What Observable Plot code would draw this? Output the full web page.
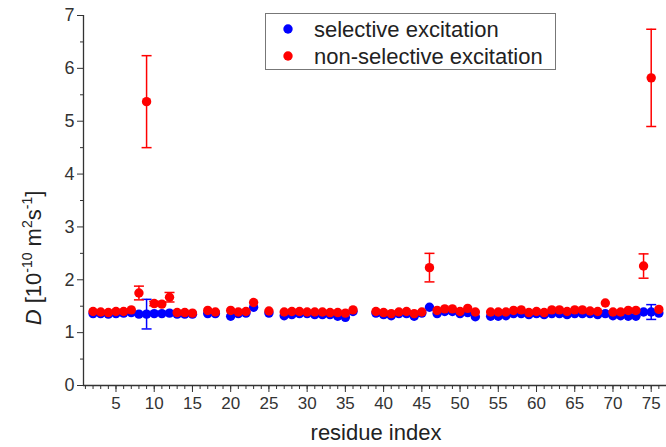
<!DOCTYPE html>
<html><head><meta charset="utf-8">
<script src="https://cdn.jsdelivr.net/npm/d3@7"></script>
<script src="https://cdn.jsdelivr.net/npm/@observablehq/plot@0.6"></script>
<style>
body{margin:0;background:#fff;}
svg{font-family:"Liberation Sans",Arial,sans-serif;}
</style>
</head><body><div id="chart"></div>
<script>
const residues = [2,3,4,5,6,7,8,9,10,11,12,13,14,15,17,18,20,21,22,23,25,27,28,29,30,31,32,33,34,35,36,39,40,41,42,43,44,45,46,47,48,49,50,51,52,54,55,56,57,58,59,60,61,62,63,64,65,66,67,68,69,70,71,72,73,74,75,76];
const selectiveD = [1.36,1.36,1.35,1.36,1.37,1.38,1.35,1.35,1.36,1.36,1.37,1.35,1.35,1.35,1.36,1.36,1.31,1.36,1.37,1.48,1.37,1.32,1.34,1.36,1.36,1.34,1.34,1.34,1.31,1.29,1.40,1.37,1.34,1.32,1.36,1.36,1.31,1.37,1.48,1.36,1.40,1.40,1.36,1.38,1.30,1.31,1.31,1.32,1.36,1.36,1.34,1.36,1.34,1.36,1.36,1.34,1.36,1.36,1.36,1.34,1.36,1.32,1.32,1.31,1.31,1.39,1.39,1.37];
const selectiveErr = [0,0,0,0,0,0,0,0.28,0,0,0,0,0,0,0,0,0,0,0,0,0,0,0,0,0,0,0,0,0,0,0,0,0,0,0,0,0,0,0,0,0,0,0,0,0,0,0,0,0,0,0,0,0,0,0,0,0,0,0,0,0,0,0,0,0,0,0.14,0];
const nonSelectiveD = [1.40,1.39,1.38,1.40,1.40,1.43,1.75,5.37,1.55,1.54,1.67,1.38,1.38,1.37,1.42,1.39,1.42,1.39,1.40,1.57,1.41,1.39,1.40,1.40,1.39,1.39,1.39,1.38,1.38,1.37,1.43,1.40,1.38,1.36,1.39,1.40,1.36,1.39,2.23,1.42,1.45,1.45,1.40,1.46,1.39,1.39,1.39,1.39,1.42,1.43,1.38,1.40,1.38,1.43,1.43,1.40,1.43,1.43,1.41,1.40,1.56,1.39,1.39,1.42,1.42,2.26,5.82,1.44];
const nonSelectiveErr = [0,0,0,0,0,0,0.13,0.87,0.04,0,0.09,0,0,0,0,0,0,0,0,0,0,0,0,0,0,0,0,0,0,0,0,0,0,0,0,0,0,0,0.27,0,0,0,0,0,0,0,0,0,0,0,0,0,0,0,0,0,0,0,0,0,0,0,0,0,0,0.23,0.92,0];
const seriesNames = ["selective excitation","non-selective excitation"];
const seriesColors = ["#0000ff","#ff0000"];
const xMajorTicks = [5,10,15,20,25,30,35,40,45,50,55,60,65,70,75];
const xMinorTicks = d3.range(1,77);
const yMajorTicks = [0,1,2,3,4,5,6,7];
const yMinorTicks = [0.5,1.5,2.5,3.5,4.5,5.5,6.5];
const xTitle = "residue index";

const sel = residues.map((r,i)=>({r, d: selectiveD[i], e: selectiveErr[i]}));
const non = residues.map((r,i)=>({r, d: nonSelectiveD[i], e: nonSelectiveErr[i]}));
const selE = sel.filter(d=>d.e>0), nonE = non.filter(d=>d.e>0);
const caps = arr => arr.flatMap(d=>[{r:d.r,y:d.d-d.e},{r:d.r,y:d.d+d.e}]);
const capSymbol = {draw(ctx){ctx.moveTo(-5,0);ctx.lineTo(5,0);}};
const xDom = [0.75, 77];

const chart = Plot.plot({
  width: 666, height: 447,
  marginLeft: 83, marginRight: 0, marginTop: 15, marginBottom: 62,
  style: {fontFamily: '"Liberation Sans",Arial,sans-serif', color: "#333"},
  x: {domain: xDom, label: null},
  y: {domain: [0,7], label: null},
  marks: [
    Plot.axisX(xMinorTicks, {tickSize: 4, tickFormat: () => "", stroke: "#333"}),
    Plot.axisX(xMajorTicks, {tickSize: 7, tickPadding: 4, fontSize: 17, stroke: "#333", fill: "#333", tickFormat: d3.format("d")}),
    Plot.axisY(yMinorTicks, {tickSize: 3, tickFormat: () => "", stroke: "#333"}),
    Plot.axisY(yMajorTicks, {tickSize: 6, tickPadding: 3, fontSize: 18, stroke: "#333", fill: "#333", tickFormat: d3.format("d")}),
    Plot.ruleY([0], {stroke: "#333", strokeWidth: 1.3}),
    Plot.ruleX([xDom[0]], {stroke: "#333", strokeWidth: 1.3}),
    Plot.ruleX(selE, {x: "r", y1: d=>d.d-d.e, y2: d=>d.d+d.e, stroke: seriesColors[0], strokeWidth: 1.5}),
    Plot.dot(caps(selE), {x: "r", y: "y", symbol: capSymbol, stroke: seriesColors[0], strokeWidth: 1.5}),
    Plot.dot(sel, {x: "r", y: "d", r: 4.7, fill: seriesColors[0]}),
    Plot.ruleX(nonE, {x: "r", y1: d=>d.d-d.e, y2: d=>d.d+d.e, stroke: seriesColors[1], strokeWidth: 1.5}),
    Plot.dot(caps(nonE), {x: "r", y: "y", symbol: capSymbol, stroke: seriesColors[1], strokeWidth: 1.5}),
    Plot.dot(non, {x: "r", y: "d", r: 4.7, fill: seriesColors[1]})
  ]
});
document.getElementById("chart").appendChild(chart);

const svg = d3.select(chart);
// x title
svg.append("text").attr("x", 376).attr("y", 440).attr("text-anchor","middle")
  .attr("font-size", 22).attr("fill","#222").text(xTitle);
// y title
const yt = svg.append("text").attr("transform","translate(41,258) rotate(-90)")
  .attr("text-anchor","middle").attr("font-size",22).attr("fill","#222");
yt.append("tspan").attr("font-style","italic").text("D");
yt.append("tspan").text(" [10");
yt.append("tspan").attr("font-size",14).attr("dy",-9).text("-10");
yt.append("tspan").attr("dy",9).text(" m");
yt.append("tspan").attr("font-size",14).attr("dy",-9).text("2");
yt.append("tspan").attr("dy",9).text("s");
yt.append("tspan").attr("font-size",14).attr("dy",-9).text("-1");
yt.append("tspan").attr("dy",9).text("]");
// legend
const lg = svg.append("g").attr("text-anchor","start");
lg.append("rect").attr("x",265.5).attr("y",13.5).attr("width",290).attr("height",56)
  .attr("fill","#fff").attr("stroke","#777").attr("stroke-width",1);
seriesNames.forEach((name,i)=>{
  const cy = 29 + i*27;
  lg.append("circle").attr("cx",288).attr("cy",cy).attr("r",4.7).attr("fill",seriesColors[i]);
  lg.append("text").attr("x",314).attr("y",cy+8).attr("text-anchor","start").attr("font-size",22).attr("fill","#222").text(name);
});
</script>
</body></html>
